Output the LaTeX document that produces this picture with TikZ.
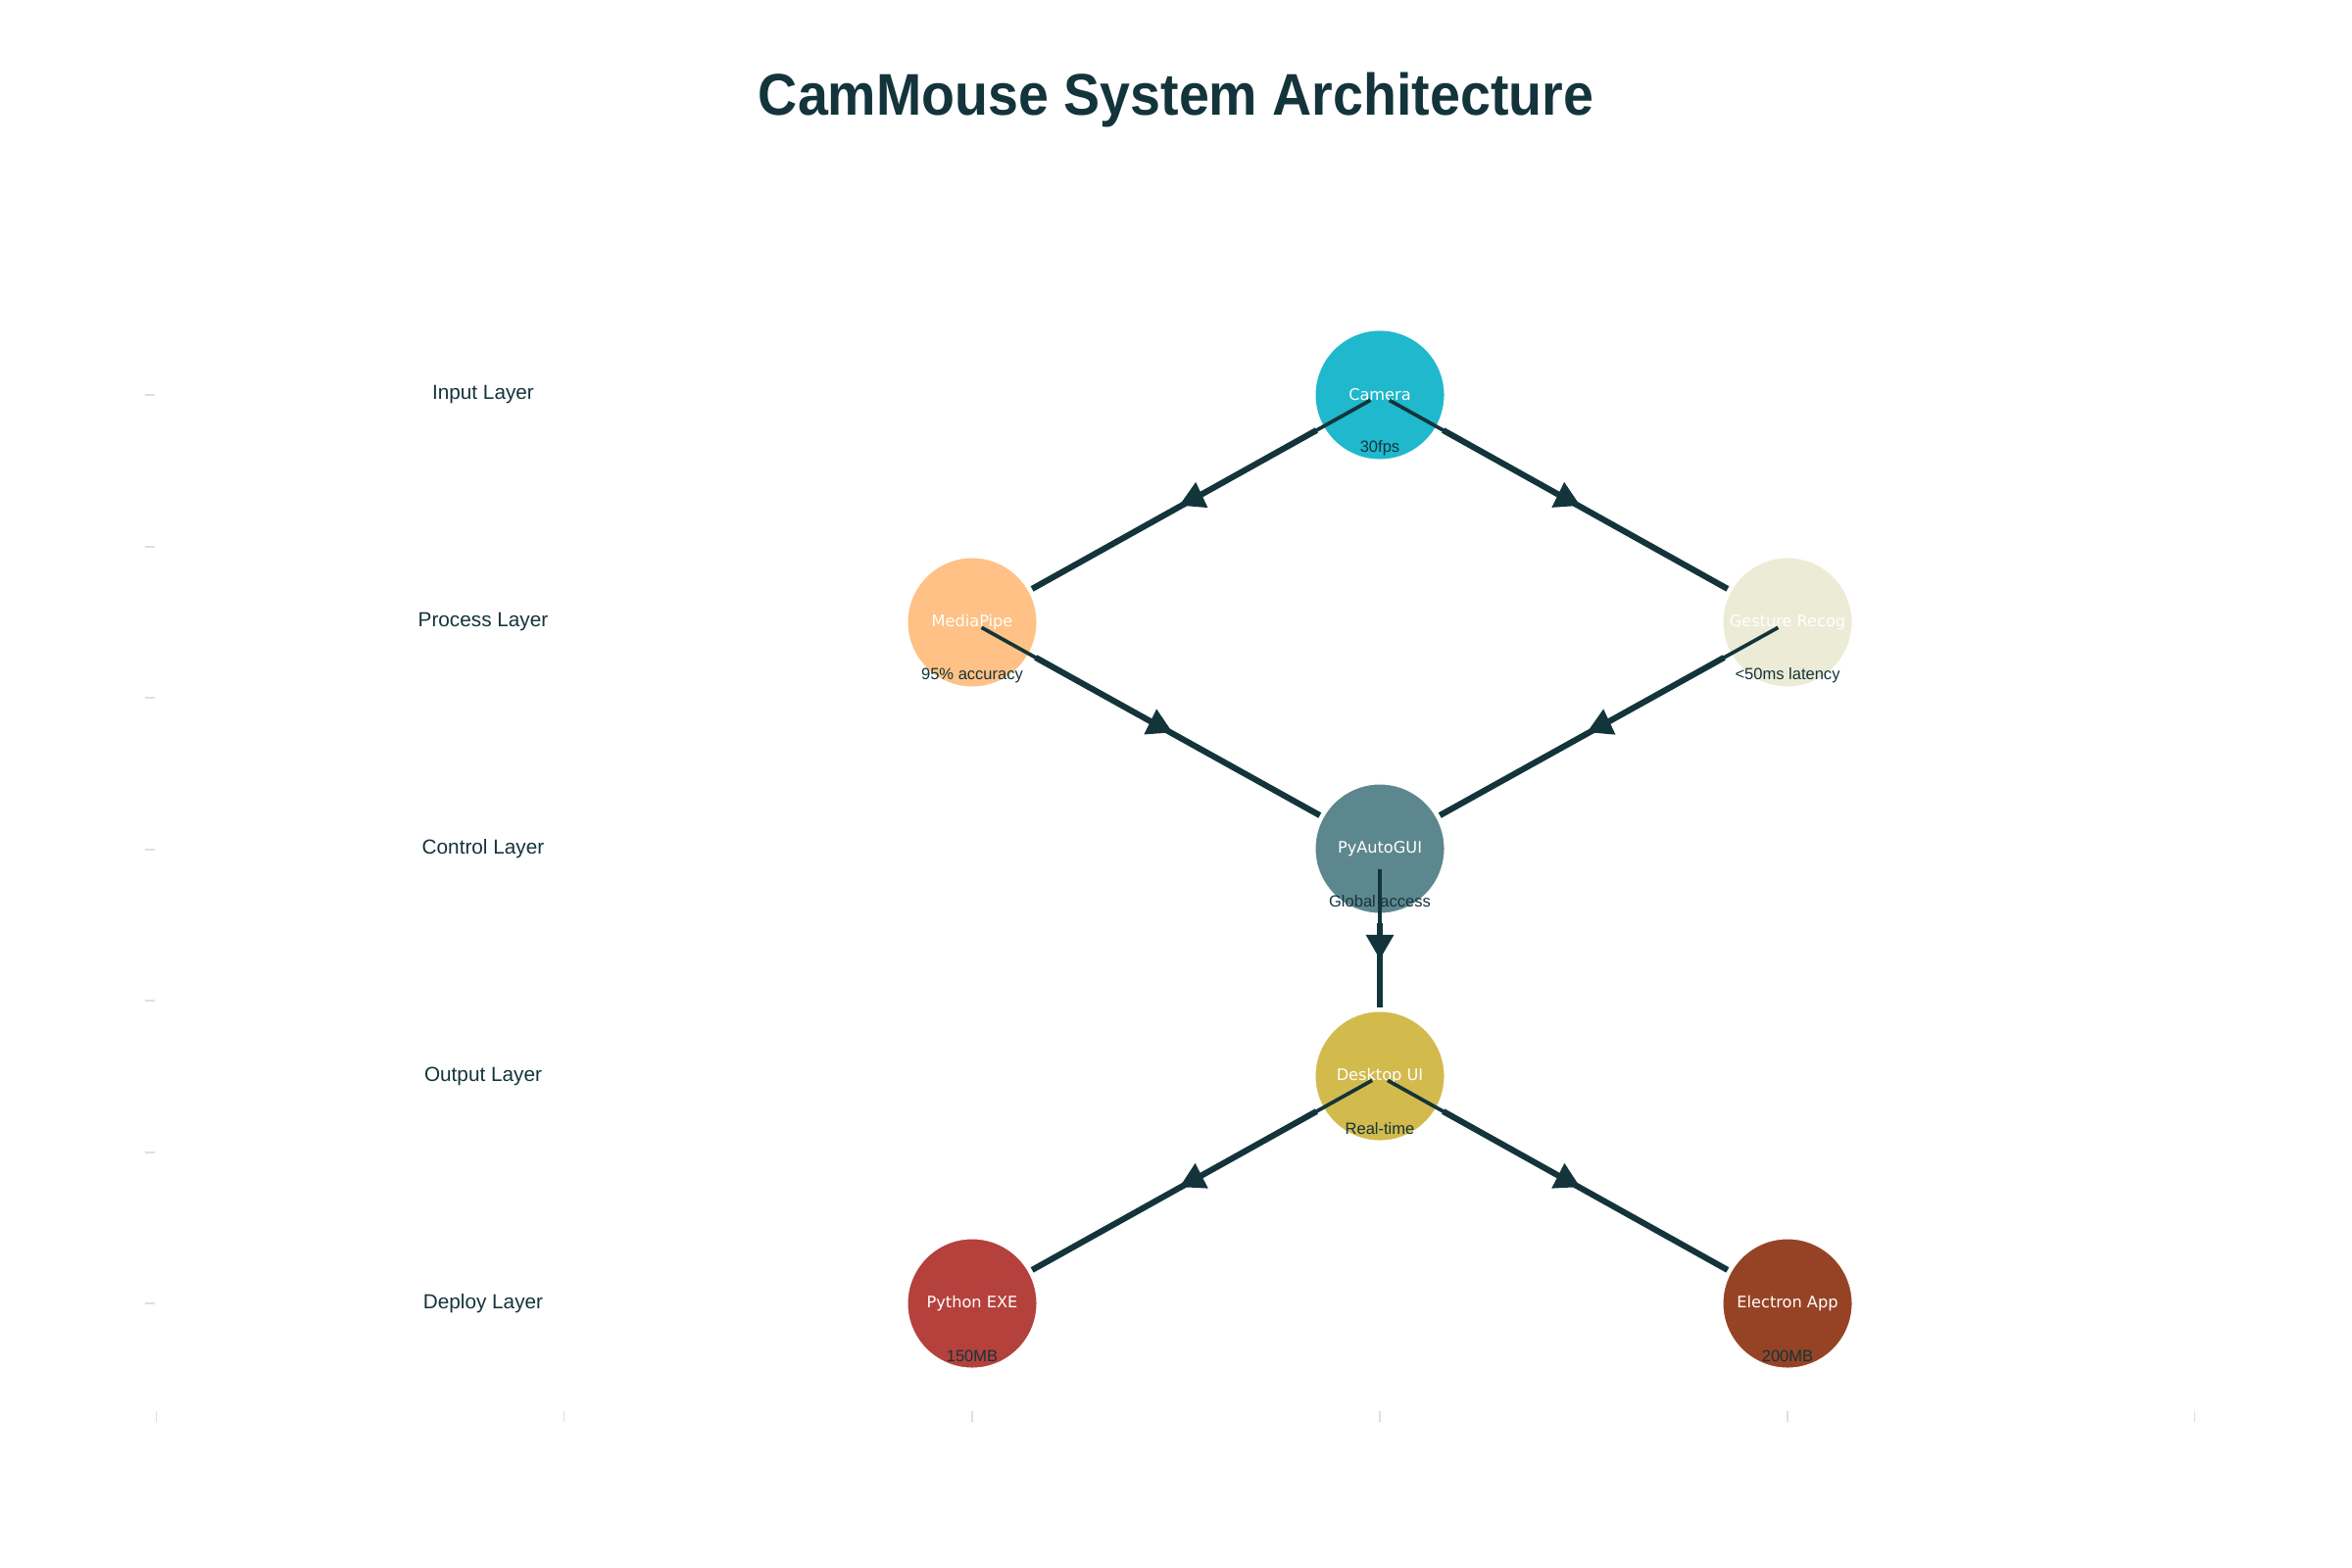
\documentclass[tikz,border=0pt]{standalone}
\usepackage{fontspec}
\usepackage{graphicx}
\setmainfont{Liberation Sans}
\newfontfamily\dejavu{DejaVu Sans}
\usetikzlibrary{calc}
\definecolor{ink}{HTML}{13343B}
\definecolor{ccam}{HTML}{1FB8CD}
\definecolor{cmp}{HTML}{FFC185}
\definecolor{cgr}{HTML}{ECEBD5}
\definecolor{cpg}{HTML}{5D878F}
\definecolor{cdu}{HTML}{D2BA4C}
\definecolor{cpy}{HTML}{B4413C}
\definecolor{cel}{HTML}{964325}
\definecolor{tickgrey}{HTML}{DEDEDE}
\tikzset{
  archnode/.style={circle, minimum size=1.32cm, inner sep=0pt, draw=white, line width=0.3pt,
    text=white, font=\dejavu\fontsize{4.6}{5.5}\selectfont},
  subtext/.style={text=ink, inner sep=0pt, font=\fontsize{4.7}{5.6}\selectfont},
  layertext/.style={text=ink, inner sep=0pt, font=\fontsize{5.9}{7}\selectfont},
  titletext/.style={text=ink, inner sep=0pt, font=\bfseries\fontsize{15.8}{18}\selectfont},
  thinline/.style={draw=ink, line width=1.05pt},
  thickline/.style={draw=ink, line width=1.75pt},
  axistick/.style={draw=tickgrey, line width=0.55pt},
}
\newcommand{\flowedge}[6]{% src, dst, fraction, rotation, thin start, thick start
  \coordinate (#1-#2-m) at ($(#1)!#3!(#2)$);
  \draw[thinline] ($(#1)!#5!(#2)$) -- (#1-#2-m);
  \draw[thickline] ($(#1)!#6!(#2)$) -- ($(#2)!0.70cm!(#1)$);
  \fill[ink, shift={(#1-#2-m)}, rotate=#4] (0,-16.7) -- (-14.5,8.3) -- (14.5,8.3) -- cycle;
}
\begin{document}
\begin{tikzpicture}[x=0.01cm, y=-0.01cm]
\useasboundingbox (0,0) rectangle (2400,1600);
\fill[white] (0,0) rectangle (2400,1600);

% title
\node[titletext] (title) at (1200,102) {\scalebox{1}[1.08]{CamMouse System Architecture}};

% axis ticks
\foreach \k in {0,...,6} \draw[axistick] (148,403.4+154.5*\k) -- (158,403.4+154.5*\k);
\foreach \x in {159.5,575.5,992,1408,1824,2239.5} \draw[axistick] (\x,1440) -- (\x,1451);

% layer labels
\node[layertext] (l1) at (493,403) {Input Layer};
\node[layertext] (l2) at (493,635) {Process Layer};
\node[layertext] (l3) at (493,866) {Control Layer};
\node[layertext] (l4) at (493,1098) {Output Layer};
\node[layertext] (l5) at (493,1330) {Deploy Layer};

% nodes
\node[archnode, fill=ccam] (cam) at (1408,403) {Camera};
\node[archnode, fill=cmp] (mp) at (992,635) {MediaPipe};
\node[archnode, fill=cgr] (gr) at (1824,635) {Gesture Recog};
\node[archnode, fill=cpg] (pg) at (1408,866) {PyAutoGUI};
\node[archnode, fill=cdu] (du) at (1408,1098) {Desktop UI};
\node[archnode, fill=cpy] (py) at (992,1330) {Python EXE};
\node[archnode, fill=cel] (el) at (1824,1330) {Electron App};

% subtitles
\node[subtext] (cam-s) at ($(cam)+(0,54)$) {30fps};
\node[subtext] (mp-s) at ($(mp)+(0,54)$) {95\% accuracy};
\node[subtext] (gr-s) at ($(gr)+(0,54)$) {<50ms latency};
\node[subtext] (pg-s) at ($(pg)+(0,54)$) {Global access};
\node[subtext] (du-s) at ($(du)+(0,54)$) {Real-time};
\node[subtext] (py-s) at ($(py)+(0,54)$) {150MB};
\node[subtext] (el-s) at ($(el)+(0,54)$) {200MB};

% connectors
\flowedge{cam}{mp}{0.455}{-5}{0.11cm}{0.74cm}
\flowedge{cam}{gr}{0.455}{4}{0.11cm}{0.74cm}
\flowedge{mp}{pg}{0.455}{4}{0.11cm}{0.74cm}
\flowedge{gr}{pg}{0.455}{-5}{0.11cm}{0.74cm}
\flowedge{pg}{du}{0.414}{180}{0.21cm}{0.76cm}
\flowedge{du}{py}{0.455}{-3}{0.09cm}{0.74cm}
\flowedge{du}{el}{0.455}{3}{0.09cm}{0.74cm}
\end{tikzpicture}
\end{document}
